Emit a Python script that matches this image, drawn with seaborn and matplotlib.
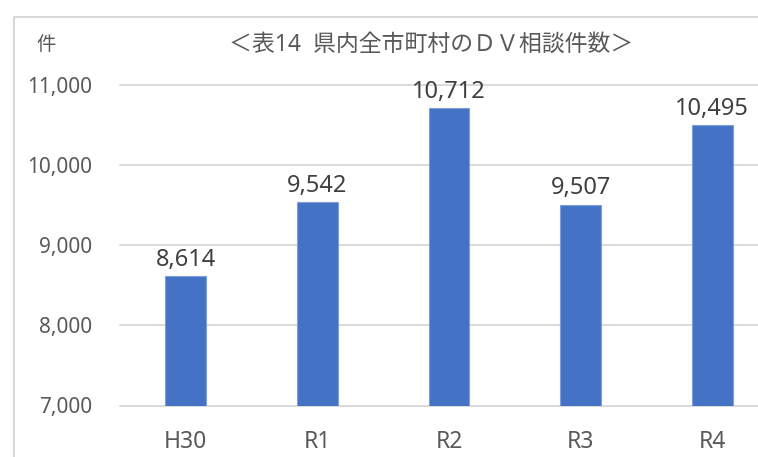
import matplotlib
matplotlib.use("Agg")
import matplotlib.pyplot as plt
from matplotlib.lines import Line2D
import seaborn as sns

# data
years = ["H30", "R1", "R2", "R3", "R4"]
counts = [8614, 9542, 10712, 9507, 10495]
yticks = [7000, 8000, 9000, 10000, 11000]

title = "＜表14  県内全市町村のＤＶ相談件数＞"
unit = "件"

sns.set_style("white")
plt.rcParams['font.family'] = ['Noto Sans', 'Noto Sans CJK JP', 'DejaVu Sans']

fig = plt.figure(figsize=(7.58, 4.57), dpi=100)
ax = fig.add_axes([120 / 758, 51.5 / 457, 638 / 758, 325.5 / 457])

sns.barplot(x=years, y=counts, color="#4472C4", width=0.31,
            edgecolor="#7D9FDB", linewidth=0.8, saturation=1, ax=ax, zorder=3)

ax.set_ylim(7000, 11062.5)
ax.set_xlim(-0.5, 4.348)
ax.set_yticks(yticks)
ax.set_yticklabels([f"{v:,}" for v in yticks])
for v in yticks:
    ax.axhline(v, color="#D9D9D9", lw=1.4, zorder=1, clip_on=False)

for s in ax.spines.values():
    s.set_visible(False)
ax.tick_params(axis="both", length=0, colors="#595959", labelsize=15)
ax.tick_params(axis="y", pad=20)
ax.tick_params(axis="x", pad=18, labelsize=16.5)
ax.set_xlabel("")
ax.set_ylabel("")

ax.bar_label(ax.containers[0], labels=[f"{v:,}" for v in counts],
             padding=3, fontsize=17, color="#404040")

fig.text(431 / 758, 1 - 45 / 457, title, ha="center", va="center",
         fontsize=16.5, color="#595959")
fig.text(46 / 758, 1 - 45 / 457, unit, ha="center", va="center",
         fontsize=14, color="#595959")

# chart border (cut off at right and bottom)
fig.add_artist(Line2D([14 / 758, 14 / 758], [0, 1 - 17 / 457],
                      transform=fig.transFigure, color="#D9D9D9", lw=1.5))
fig.add_artist(Line2D([14 / 758, 1], [1 - 17 / 457, 1 - 17 / 457],
                      transform=fig.transFigure, color="#D9D9D9", lw=1.5))

fig.savefig("out.png", dpi=100)
